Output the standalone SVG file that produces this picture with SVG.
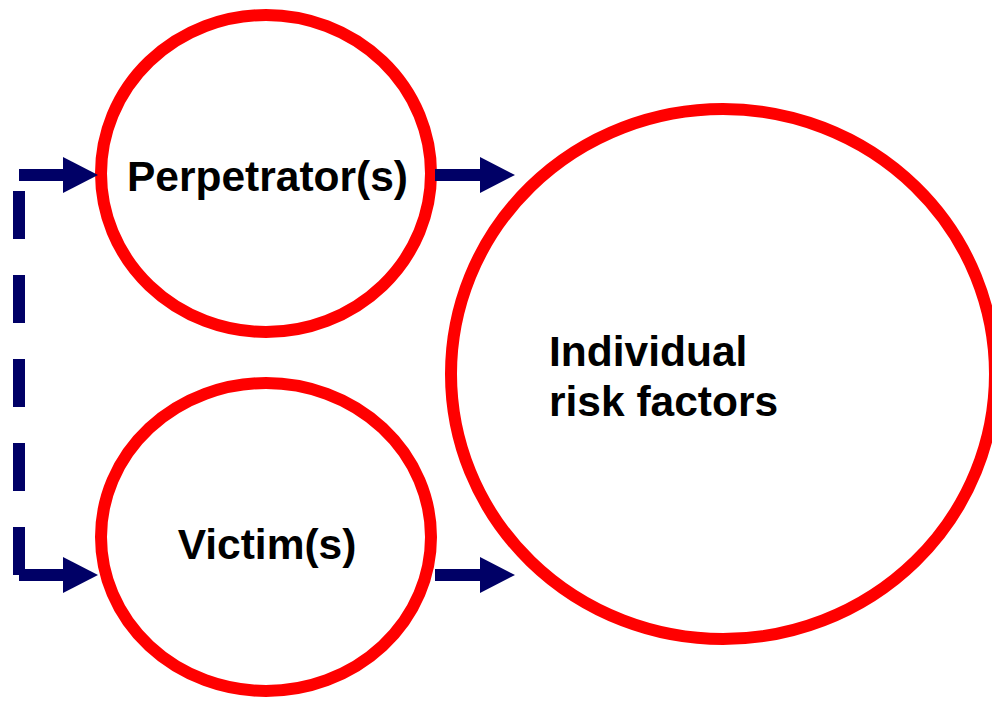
<svg xmlns="http://www.w3.org/2000/svg" width="992" height="707" viewBox="0 0 992 707">
  <defs>
    <style>
      .ring { fill: #ffffff; stroke: #ff0000; stroke-width: 12; }
      .label { font-family: "Liberation Sans", Arial, sans-serif; font-weight: bold; font-size: 42.5px; fill: #000000; }
      .shaft { stroke: #000066; stroke-width: 12; fill: none; }
      .head { fill: #000066; }
    </style>
  </defs>
  <rect x="0" y="0" width="992" height="707" fill="#ffffff"/>

  <!-- Nodes -->
  <g id="perpetrators">
    <ellipse class="ring" cx="266" cy="173.5" rx="165" ry="158.5"/>
    <text class="label" x="267.5" y="191" text-anchor="middle">Perpetrator(s)</text>
  </g>
  <g id="victims">
    <ellipse class="ring" cx="266" cy="537" rx="165" ry="154"/>
    <text class="label" x="267" y="559" text-anchor="middle">Victim(s)</text>
  </g>
  <g id="individual-risk-factors">
    <ellipse class="ring" cx="723" cy="374" rx="272" ry="265"/>
    <text class="label" x="549" y="366">Individual</text>
    <text class="label" x="549" y="416">risk factors</text>
  </g>

  <!-- Connectors -->
  <g id="connectors">
    <!-- dashed link feeding both circles -->
    <line class="shaft" x1="19" y1="575" x2="19" y2="175" stroke-dasharray="48 36"/>
    <line class="shaft" x1="19" y1="175" x2="64" y2="175"/>
    <polygon class="head" points="63,157 98,175 63,193"/>
    <line class="shaft" x1="19" y1="575" x2="64" y2="575"/>
    <polygon class="head" points="63,557 98,575 63,593"/>
    <!-- arrows into the risk-factor circle -->
    <line class="shaft" x1="435" y1="175" x2="481" y2="175"/>
    <polygon class="head" points="480,157 515,175 480,193"/>
    <line class="shaft" x1="435" y1="575" x2="481" y2="575"/>
    <polygon class="head" points="480,557 515,575 480,593"/>
  </g>
</svg>
